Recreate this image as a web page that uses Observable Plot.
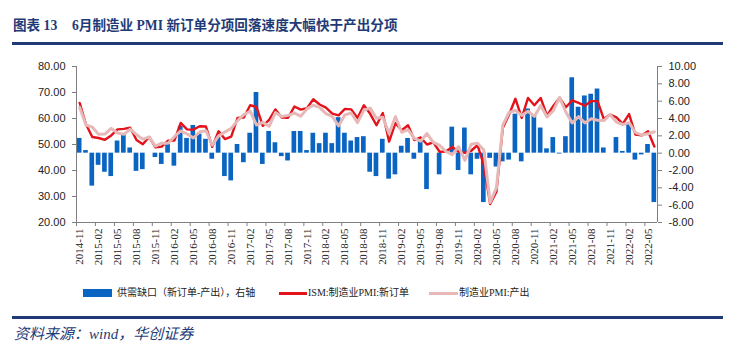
<!DOCTYPE html>
<html><head><meta charset="utf-8">
<script src="https://cdn.jsdelivr.net/npm/d3@7"></script>
<script src="https://cdn.jsdelivr.net/npm/@observablehq/plot@0.6"></script>
<style>
body{margin:0;background:#fff;}
#wrap{position:relative;width:735px;height:358px;overflow:hidden;background:#fff;}
#title{position:absolute;top:16px;left:13px;height:20px;width:720px;color:#1F3B77;font-weight:bold;font-size:13.6px;font-family:"Liberation Serif","Noto Sans CJK SC",serif;line-height:20px;}
#title span{position:absolute;top:0;white-space:nowrap;}
.hr{position:absolute;left:12px;width:711px;height:3px;background:#1F3B77;}
#chart{position:absolute;left:0;top:48px;}
.lg{position:absolute;top:286px;font-size:10px;line-height:14px;color:#222;font-family:"Liberation Serif","Noto Sans CJK SC",serif;white-space:nowrap;}
.sw{position:absolute;}
#source{position:absolute;top:322px;left:14px;font-size:15px;font-style:italic;color:#1F3B77;font-family:"Liberation Serif","Noto Sans CJK SC",serif;white-space:nowrap;}
</style></head><body>
<div id="wrap">
  <div id="title"><span style="left:0">图表 13</span><span style="left:59px">6月制造业 PMI 新订单分项回落速度大幅快于产出分项</span></div>
  <div class="hr" style="top:42px"></div>
  <div id="chart"></div>
  <div class="sw" style="left:83px;top:289px;width:29px;height:8px;background:#0A64C2"></div>
  <div class="lg" style="left:117px">供需缺口（新订单-产出），右轴</div>
  <div class="sw" style="left:279px;top:292px;width:28px;height:3px;background:#E3121B"></div>
  <div class="lg" style="left:308px">ISM:制造业PMI:新订单</div>
  <div class="sw" style="left:429px;top:292px;width:29px;height:3px;background:#E6B9B8"></div>
  <div class="lg" style="left:459px">制造业PMI:产出</div>
  <div class="hr" style="top:316px"></div>
  <div id="source">资料来源：wind，华创证券</div>
</div>
<script>
const months = ["2014-11","2014-12",
"2015-01","2015-02","2015-03","2015-04","2015-05","2015-06","2015-07","2015-08","2015-09","2015-10","2015-11","2015-12",
"2016-01","2016-02","2016-03","2016-04","2016-05","2016-06","2016-07","2016-08","2016-09","2016-10","2016-11","2016-12",
"2017-01","2017-02","2017-03","2017-04","2017-05","2017-06","2017-07","2017-08","2017-09","2017-10","2017-11","2017-12",
"2018-01","2018-02","2018-03","2018-04","2018-05","2018-06","2018-07","2018-08","2018-09","2018-10","2018-11","2018-12",
"2019-01","2019-02","2019-03","2019-04","2019-05","2019-06","2019-07","2019-08","2019-09","2019-10","2019-11","2019-12",
"2020-01","2020-02","2020-03","2020-04","2020-05","2020-06","2020-07","2020-08","2020-09","2020-10","2020-11","2020-12",
"2021-01","2021-02","2021-03","2021-04","2021-05","2021-06","2021-07","2021-08","2021-09","2021-10","2021-11","2021-12",
"2022-01","2022-02","2022-03","2022-04","2022-05","2022-06"];

const tickLabels = ["2014-11","2015-02","2015-05","2015-08","2015-11","2016-02","2016-05","2016-08","2016-11",
"2017-02","2017-05","2017-08","2017-11","2018-02","2018-05","2018-08","2018-11","2019-02","2019-05","2019-08","2019-11",
"2020-02","2020-05","2020-08","2020-11","2021-02","2021-05","2021-08","2021-11","2022-02","2022-05"];

// ISM:制造业PMI:新订单 (left axis)
const newOrders = [66.0,57.8,
52.9,52.5,51.8,53.5,55.8,56.0,56.5,51.7,50.1,52.9,48.9,49.2,
51.5,51.5,58.3,55.8,55.7,57.0,56.9,49.1,55.1,52.1,53.0,60.2,
60.4,65.1,64.5,57.2,59.5,63.5,60.4,60.3,64.6,63.4,64.0,67.4,
65.4,64.2,61.9,61.2,63.7,63.5,60.2,65.1,61.8,57.4,62.1,51.1,
58.2,55.5,57.4,51.7,52.7,50.0,50.8,47.2,47.3,49.1,47.2,46.8,
47.6,49.8,42.2,27.1,31.8,56.4,61.5,67.6,60.2,67.9,65.1,67.9,
61.1,64.8,68.0,64.3,67.0,66.0,64.9,66.7,66.7,59.8,61.5,60.4,
57.9,61.7,53.8,53.5,55.1,49.2];

// 制造业PMI:产出 (left axis)
const output = [64.3,57.5,
56.7,53.9,54.0,56.2,54.4,53.9,55.9,53.8,52.0,52.9,49.4,50.5,
50.5,53.0,55.2,54.1,52.5,54.8,55.3,49.8,53.3,54.8,56.2,59.2,
61.5,62.8,57.5,58.5,57.0,62.3,60.8,61.2,62.1,60.9,63.7,65.1,
64.3,61.9,60.8,57.1,61.4,62.1,58.4,63.2,64.0,60.1,60.5,54.1,
60.7,54.7,55.7,52.4,51.3,54.2,50.8,49.7,47.3,46.1,49.2,43.9,
50.1,50.5,47.9,27.7,33.4,57.4,62.3,63.1,61.2,62.8,60.8,65.0,
60.6,63.0,68.1,62.4,58.3,60.7,58.3,59.9,59.3,59.2,61.5,58.6,
57.7,58.4,54.6,53.7,54.1,54.9];

// 供需缺口（新订单-产出），右轴
const gap = [1.7,0.3,
-3.8,-1.4,-2.2,-2.7,1.4,2.1,0.6,-2.1,-1.9,0.0,-0.5,-1.3,
1.0,-1.5,3.1,1.7,3.2,2.2,1.6,-0.7,1.8,-2.7,-3.2,1.0,
-1.1,2.3,7.0,-1.3,2.5,1.2,-0.4,-0.9,2.5,2.5,0.3,2.3,
1.1,2.3,1.1,4.1,2.3,1.4,1.8,1.9,-2.2,-2.7,1.6,-3.0,
-2.5,0.8,1.7,-0.7,1.4,-4.2,0.0,-2.5,0.0,3.0,-2.0,2.9,
-2.5,-0.7,-5.7,-0.6,-1.6,-1.0,-0.8,4.5,-1.0,5.1,4.3,2.9,
0.5,1.8,-0.1,1.9,8.7,5.3,6.6,6.8,7.4,0.6,0.0,1.8,
0.2,3.3,-0.8,-0.2,1.0,-5.7];

const leftTicks = [20,30,40,50,60,70,80];
const rightTicks = [-8,-6,-4,-2,0,2,4,6,8,10];

const L0 = leftTicks[0], L1 = leftTicks[leftTicks.length-1];
const R0 = rightTicks[0], R1 = rightTicks[rightTicks.length-1];
const toLeft = r => L0 + (r - R0) * (L1 - L0) / (R1 - R0);
const fromLeft = v => R0 + (v - L0) * (R1 - R0) / (L1 - L0);

const rows = months.map((m, i) => ({i, m, no: newOrders[i], prod: output[i], gap: gap[i]}));
const labelIdx = tickLabels.map(t => months.indexOf(t));
const N = months.length;

const axisColor = "#808080";
const sans = "'Liberation Sans', Arial, sans-serif";
const serif = "'Liberation Serif', 'Times New Roman', serif";

const chart = Plot.plot({
  width: 735, height: 232,
  marginTop: 18, marginBottom: 58, marginLeft: 76, marginRight: 78,
  style: {background: "transparent", overflow: "visible"},
  x: {type: "linear", domain: [0, N], axis: null},
  y: {domain: [L0, L1], axis: null},
  marks: [
    Plot.rect(rows, {x1: d => d.i + 0.13, x2: d => d.i + 0.87, y1: toLeft(0), y2: d => toLeft(d.gap), fill: "#0A64C2"}),
    Plot.line(rows, {x: d => d.i + 0.5, y: "no", stroke: "#E3121B", strokeWidth: 2.4}),
    Plot.line(rows, {x: d => d.i + 0.5, y: "prod", stroke: "#E6B9B8", strokeWidth: 3}),
    Plot.ruleX([0, N], {stroke: axisColor, strokeWidth: 1}),
    Plot.ruleY([L0], {stroke: axisColor, strokeWidth: 1}),
    Plot.axisY({anchor: "left", ticks: leftTicks, tickFormat: d => d.toFixed(2), tickSize: 4, tickPadding: 7,
      fontSize: 11, fontFamily: sans, color: "#222", stroke: axisColor}),
    Plot.axisY({anchor: "right", ticks: rightTicks.map(toLeft),
      tickFormat: v => { const r = Math.round(fromLeft(v) * 100) / 100; return (r === 0 ? 0 : r).toFixed(2); },
      tickSize: 4, tickPadding: 7, fontSize: 11, fontFamily: sans, color: "#222", stroke: axisColor}),
    Plot.axisX({ticks: labelIdx.map(i => i + 0.5), tickFormat: d => months[Math.round(d - 0.5)],
      tickSize: 0, tickPadding: 6, tickRotate: -90, fontSize: 11, fontFamily: serif, color: "#222"}),
    Plot.axisX({ticks: labelIdx, tickFormat: () => "", tickSize: 4, stroke: axisColor})
  ]
});
document.getElementById("chart").appendChild(chart);
</script>
</body></html>
